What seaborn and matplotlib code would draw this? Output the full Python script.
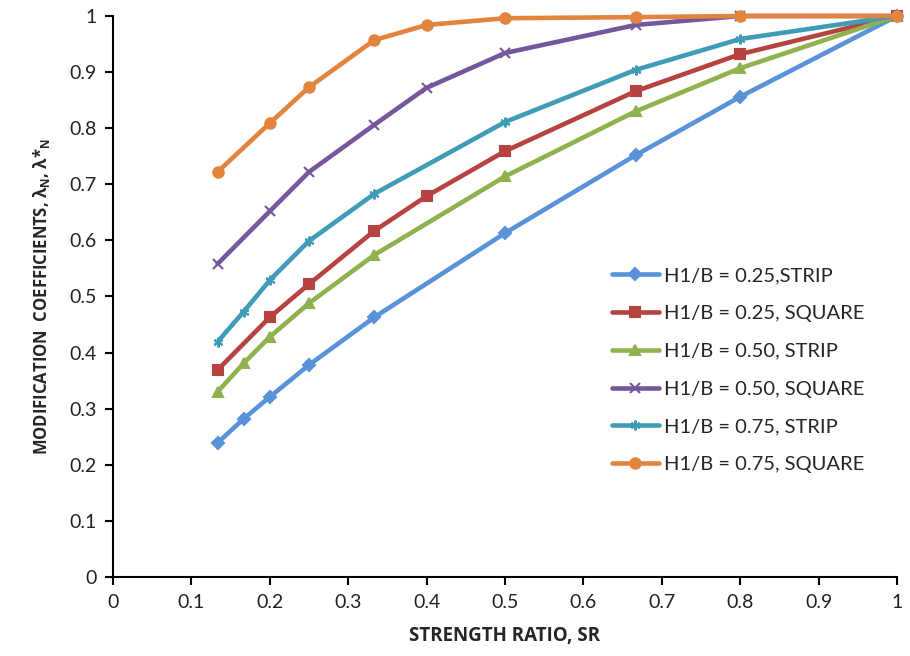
import numpy as np
import pandas as pd
import matplotlib
matplotlib.use("Agg")
import matplotlib.pyplot as plt
import seaborn as sns

# Strength ratio values and modification coefficients for each case
sr_025_strip = [0.1333, 0.1667, 0.2, 0.25, 0.3333, 0.5, 0.6667, 0.8, 1.0]
lam_025_strip = [0.239, 0.282, 0.321, 0.378, 0.463, 0.613, 0.752, 0.856, 1.0]

sr_025_square = [0.1333, 0.2, 0.25, 0.3333, 0.4, 0.5, 0.6667, 0.8, 1.0]
lam_025_square = [0.369, 0.463, 0.522, 0.617, 0.679, 0.759, 0.866, 0.932, 1.0]

sr_050_strip = [0.1333, 0.1667, 0.2, 0.25, 0.3333, 0.5, 0.6667, 0.8, 1.0]
lam_050_strip = [0.330, 0.381, 0.428, 0.488, 0.574, 0.714, 0.830, 0.907, 1.0]

sr_050_square = [0.1333, 0.2, 0.25, 0.3333, 0.4, 0.5, 0.6667, 0.8, 1.0]
lam_050_square = [0.558, 0.652, 0.722, 0.806, 0.872, 0.934, 0.984, 1.0, 1.0]

sr_075_strip = [0.1333, 0.1667, 0.2, 0.25, 0.3333, 0.5, 0.6667, 0.8, 1.0]
lam_075_strip = [0.419, 0.473, 0.529, 0.599, 0.683, 0.811, 0.904, 0.959, 1.0]

sr_075_square = [0.1333, 0.2, 0.25, 0.3333, 0.4, 0.5, 0.6667, 0.8, 1.0]
lam_075_square = [0.722, 0.809, 0.873, 0.957, 0.984, 0.996, 0.998, 1.0, 1.0]

series_labels = [
    "H1/B = 0.25,STRIP",
    "H1/B = 0.25, SQUARE",
    "H1/B = 0.50, STRIP",
    "H1/B = 0.50, SQUARE",
    "H1/B = 0.75, STRIP",
    "H1/B = 0.75, SQUARE",
]
series_x = [sr_025_strip, sr_025_square, sr_050_strip, sr_050_square, sr_075_strip, sr_075_square]
series_y = [lam_025_strip, lam_025_square, lam_050_strip, lam_050_square, lam_075_strip, lam_075_square]

colors = ["#5A92DA", "#B6433F", "#8FB24E", "#75579C", "#3F9CB7", "#E2843E"]
markers = ["D", "s", "^", "x", (6, 2, 0), "o"]
msizes = [6, 7.5, 7.5, 7, 7, 7.5]

frames = []
for lab, xs, ys in zip(series_labels, series_x, series_y):
    frames.append(pd.DataFrame({"SR": xs, "lam": ys, "case": lab}))
df = pd.concat(frames, ignore_index=True)

sns.set_theme(style="white")
plt.rcParams["font.family"] = ["Lato", "DejaVu Sans"]

fig = plt.figure(figsize=(9.1, 6.56), dpi=100)
ax = fig.add_axes([113 / 910, 1 - 577 / 656, (897 - 113) / 910, (577 - 16) / 656])

for lab, col, mk, ms in zip(series_labels, colors, markers, msizes):
    sub = df[df["case"] == lab]
    sns.lineplot(
        data=sub, x="SR", y="lam", ax=ax, color=col, linewidth=3.3,
        marker=mk, markersize=ms, markeredgecolor=col, markeredgewidth=1.5,
        label=lab, clip_on=False, zorder=3,
    )

ticks = np.round(np.arange(0, 1.01, 0.1), 1)
fmt = lambda v: "0" if v == 0 else ("1" if v == 1 else f"{v:.1f}")
ax.set_xlim(0, 1)
ax.set_ylim(0, 1)
ax.set_xticks(ticks)
ax.set_yticks(ticks)
ax.set_xticklabels([fmt(v) for v in ticks], fontsize=14)
ax.set_yticklabels([fmt(v) for v in ticks], fontsize=14)

for s in ["top", "right"]:
    ax.spines[s].set_visible(False)
for s in ["left", "bottom"]:
    ax.spines[s].set_color("black")
    ax.spines[s].set_linewidth(1.5)
ax.tick_params(axis="both", which="major", direction="out", length=6, width=1.5,
               color="black", labelcolor="#222222", bottom=True, left=True, pad=6)

ax.set_xlabel("STRENGTH RATIO, SR",
              fontdict={"family": ["Open Sans", "DejaVu Sans"], "weight": "bold", "size": 13.5},
              labelpad=11)
ax.set_ylabel(r"MODIFICATION  COEFFICIENTS, λ$_\mathregular{N}$, λ*$_\mathregular{N}$",
              fontdict={"family": ["Open Sans", "DejaVu Sans"], "weight": "bold", "size": 12},
              labelpad=12)

leg = ax.legend(loc="upper left", bbox_to_anchor=(0.6136, 0.585), frameon=False,
                prop={"size": 14.5}, handlelength=2.3, labelspacing=1.03,
                handletextpad=0.25)

fig.savefig("out.png", dpi=100)
